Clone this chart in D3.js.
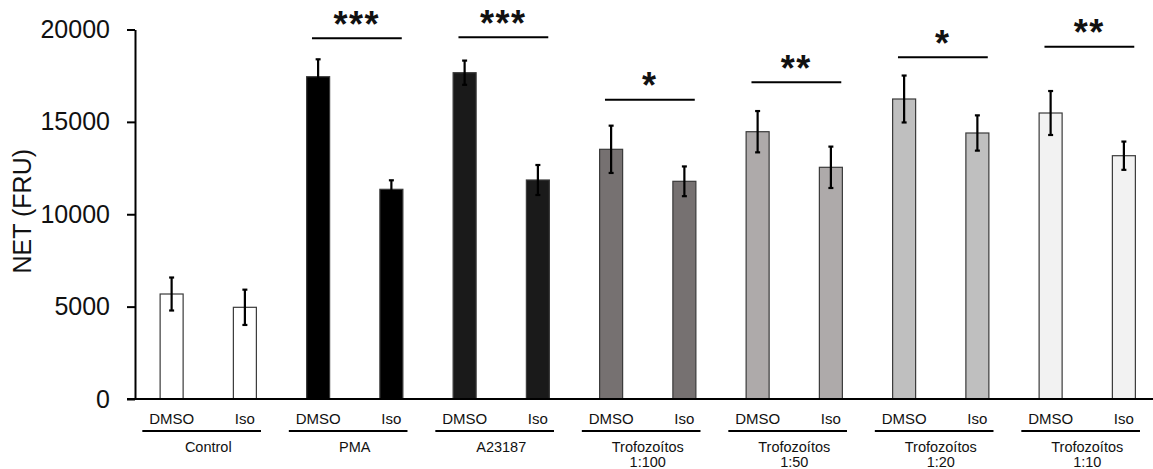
<!DOCTYPE html>
<html><head><meta charset="utf-8">
<script src="https://cdn.jsdelivr.net/npm/d3@7"></script>
<style>
body{margin:0;background:#fff}
svg{display:block;font-family:"Liberation Sans",Arial,sans-serif}
</style>
</head><body>
<svg id="chart" width="1153" height="469"></svg>
<script>
// ---------- data ----------
const groups = ["Control","PMA","A23187","Trofozoítos 1:100","Trofozoítos 1:50","Trofozoítos 1:20","Trofozoítos 1:10"];
const groupLabelLines = [["Control"],["PMA"],["A23187"],["Trofozoítos","1:100"],["Trofozoítos","1:50"],["Trofozoítos","1:20"],["Trofozoítos","1:10"]];
const treatments = ["DMSO","Iso"];
const dmsoMeans = [5683,17445,17662,13515,14468,16238,15480];
const dmsoErrors = [893,942,655,1280,1118,1270,1190];
const isoMeans  = [4963,11350,11854,11783,12541,14398,13169];
const isoErrors = [955,488,812,805,1120,955,765];
const sigStars  = ["","***","***","*","**","*","**"];
const sigLevels = [null,19524,19578,16200,17142,18495,19069];
const yTicks = [0,5000,10000,15000,20000];
const yLabel = "NET (FRU)";

// ---------- styles ----------
const groupColors = ["#FFFFFF","#000000","#1A1A1A","#767171","#AEAAAA","#BFBFBF","#F2F2F2"];

// ---------- build ----------
const rows = [];
groups.forEach((g,i)=>{
  rows.push({group:g, t:"DMSO", v:dmsoMeans[i], e:dmsoErrors[i]});
  rows.push({group:g, t:"Iso", v:isoMeans[i], e:isoErrors[i]});
});

const svg = d3.select("#chart");
const mLeft = 135, mBottom = 399, mTop = 29.5, gStep = 146.5;
const x = d3.scaleBand().domain(groups).range([mLeft, mLeft + gStep*groups.length]).padding(0);
const xi = d3.scalePoint().domain(treatments).range([0, x.bandwidth()]).padding(0.5);
const y = d3.scaleLinear().domain([0,20000]).range([mBottom, mTop]);
const color = d3.scaleOrdinal(groups, groupColors);
const barW = x.bandwidth()*0.157;
const cx = d => x(d.group) + xi(d.t);

// y axis
const yAxis = svg.append("g").attr("transform",`translate(${mLeft},0)`)
  .call(d3.axisLeft(y).tickValues(yTicks).tickSize(8).tickSizeOuter(0).tickPadding(17).tickFormat(d3.format("d")));
yAxis.select(".domain").attr("stroke","#000").attr("stroke-width",2);
yAxis.selectAll(".tick line").attr("stroke","#000").attr("stroke-width",2);
yAxis.selectAll(".tick text").attr("font-size",25).attr("fill","#111").attr("font-family","Liberation Sans, Arial, sans-serif");

// y label
svg.append("text").attr("transform",`translate(31,${(mTop+mBottom)/2 - 3}) rotate(-90)`)
  .attr("text-anchor","middle").attr("font-size",25).attr("fill","#111").text(yLabel);

// bars
svg.append("g").selectAll("rect").data(rows).join("rect")
  .attr("x", d=>cx(d)-barW/2).attr("width",barW)
  .attr("y", d=>y(d.v)).attr("height", d=>y(0)-y(d.v))
  .attr("fill", d=>color(d.group)).attr("stroke","#3a3a3a").attr("stroke-width",1.2);

// error bars
const eb = svg.append("g").attr("stroke","#000").attr("stroke-width",2.2);
eb.selectAll("line.v").data(rows).join("line").attr("class","v")
  .attr("x1",cx).attr("x2",cx).attr("y1",d=>y(d.v+d.e)).attr("y2",d=>y(d.v-d.e));
eb.selectAll("line.t").data(rows).join("line").attr("class","t")
  .attr("x1",d=>cx(d)-2.5).attr("x2",d=>cx(d)+2.5).attr("y1",d=>y(d.v+d.e)).attr("y2",d=>y(d.v+d.e));
eb.selectAll("line.b").data(rows).join("line").attr("class","b")
  .attr("x1",d=>cx(d)-2.5).attr("x2",d=>cx(d)+2.5).attr("y1",d=>y(d.v-d.e)).attr("y2",d=>y(d.v-d.e));

// x axis line
svg.append("line").attr("x1",mLeft-8).attr("x2",1153).attr("y1",y(0)).attr("y2",y(0))
  .attr("stroke","#000").attr("stroke-width",2);

// treatment labels
svg.append("g").selectAll("text").data(rows).join("text")
  .attr("x",cx).attr("y",y(0)+24.5).attr("text-anchor","middle")
  .attr("font-size",15).attr("fill","#111").text(d=>d.t);

// group underlines
svg.append("g").selectAll("line").data(groups).join("line")
  .attr("x1",g=>x(g)+x.bandwidth()*0.05).attr("x2",g=>x(g)+x.bandwidth()*0.86)
  .attr("y1",y(0)+32).attr("y2",y(0)+32).attr("stroke","#000").attr("stroke-width",2);

// group labels
const gl = svg.append("g").selectAll("text").data(groups).join("text")
  .attr("x",g=>x(g)+x.bandwidth()/2).attr("y",y(0)+52.5).attr("text-anchor","middle")
  .attr("font-size",14.5).attr("fill","#111");
gl.selectAll("tspan").data((g,i)=>groupLabelLines[i]).join("tspan")
  .attr("x",function(){return this.parentNode.getAttribute("x");})
  .attr("dy",(d,j)=>j===0?0:15.5).text(d=>d);

// significance brackets
const sig = groups.map((g,i)=>({group:g, stars:sigStars[i], level:sigLevels[i]})).filter(d=>d.level!==null);
const sg = svg.append("g");
sg.selectAll("line").data(sig).join("line")
  .attr("x1",d=>x(d.group)+x.bandwidth()*0.208).attr("x2",d=>x(d.group)+x.bandwidth()*0.821)
  .attr("y1",d=>y(d.level)).attr("y2",d=>y(d.level)).attr("stroke","#000").attr("stroke-width",2);
sg.selectAll("text").data(sig).join("text")
  .attr("x",d=>x(d.group)+x.bandwidth()*0.5145).attr("y",d=>y(d.level)-22+0.57*36)
  .attr("text-anchor","middle").attr("font-size",36).attr("font-weight","bold")
  .attr("letter-spacing",1.5).attr("fill","#111").text(d=>d.stars);
</script>
</body></html>
